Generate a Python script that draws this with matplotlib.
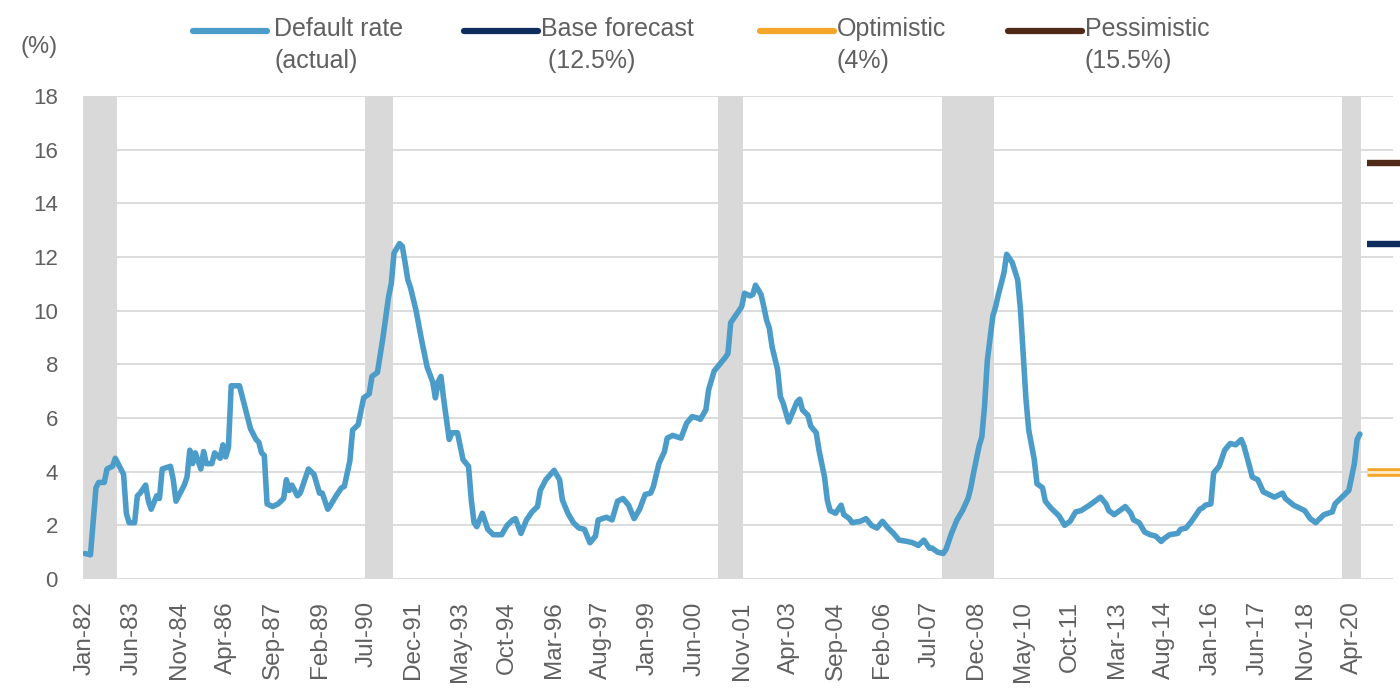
import matplotlib
matplotlib.use("Agg")
import matplotlib.pyplot as plt
from matplotlib.lines import Line2D

plt.rcParams['font.family'] = ['Liberation Sans', 'DejaVu Sans']

# default rate, months counted from Jan-82
months = [0, 2, 4, 5, 7, 8, 10, 11, 13, 14, 15, 16, 18, 19, 20, 22, 23, 24, 26, 27,
          28, 31, 32, 33, 34, 36, 37, 38, 39, 40, 42, 43, 44, 46, 47, 49, 50, 51, 52, 53,
          56, 58, 60, 62, 63, 64, 65, 66, 68, 70, 72, 73, 74, 75, 77, 78, 81, 83, 85, 86,
          88, 89, 91, 93, 94, 96, 97, 99, 101, 103, 104, 106, 108, 110, 111, 112, 114, 115, 116, 117,
          118, 120, 122, 124, 126, 127, 128, 129, 130, 132, 133, 135, 137, 139, 140, 141, 142, 144, 146, 148,
          151, 153, 155, 156, 158, 160, 162, 164, 165, 167, 170, 172, 173, 175, 177, 179, 181, 183, 185, 186,
          189, 191, 193, 195, 197, 199, 201, 203, 205, 206, 208, 210, 211, 213, 216, 218, 220, 222, 223, 225,
          226, 228, 230, 232, 233, 234, 236, 237, 238, 239, 241, 242, 243, 245, 246, 247, 248, 249, 251, 252,
          253, 255, 257, 258, 259, 260, 262, 263, 265, 266, 268, 269, 270, 272, 274, 275, 277, 278, 281, 283,
          285, 287, 289, 291, 293, 295, 298, 300, 302, 304, 306, 307, 309, 311, 312, 314, 316, 318, 320, 321,
          322, 324, 325, 326, 327, 329, 330, 331, 333, 334, 336, 338, 339, 340, 341, 342, 344, 345, 347, 348,
          350, 351, 353, 355, 357, 359, 361, 364, 366, 368, 370, 371, 373, 375, 377, 379, 380, 382, 384, 386,
          388, 390, 391, 393, 396, 397, 399, 401, 403, 404, 405, 406, 408, 409, 411, 413, 415, 417, 419, 420,
          422, 423, 425, 427, 429, 431, 434, 435, 438, 440, 442, 444, 446, 448, 449, 452, 453, 455, 457, 458,
          460, 461, 462]
default_rate = [0.95, 0.9, 3.4, 3.6, 3.6, 4.1, 4.2, 4.5, 4.1, 3.9, 2.45, 2.1, 2.1, 3.1, 3.2, 3.5, 2.9, 2.6, 3.1, 3.0,
                4.1, 4.2, 3.7, 2.9, 3.1, 3.5, 3.8, 4.8, 4.3, 4.7, 4.1, 4.75, 4.3, 4.3, 4.7, 4.5, 5.0, 4.55, 4.9, 7.2,
                7.2, 6.4, 5.6, 5.2, 5.1, 4.7, 4.6, 2.8, 2.7, 2.8, 3.0, 3.7, 3.3, 3.5, 3.1, 3.2, 4.1, 3.9, 3.2, 3.2,
                2.6, 2.75, 3.1, 3.4, 3.45, 4.4, 5.55, 5.75, 6.75, 6.9, 7.55, 7.7, 9.0, 10.5, 11.0, 12.15, 12.5, 12.4, 11.8, 11.15,
                10.85, 10.0, 8.9, 7.9, 7.35, 6.75, 7.35, 7.55, 6.7, 5.2, 5.45, 5.45, 4.45, 4.2, 2.95, 2.1, 1.95, 2.45, 1.85, 1.65,
                1.65, 2.0, 2.2, 2.25, 1.7, 2.2, 2.5, 2.7, 3.3, 3.7, 4.05, 3.7, 2.95, 2.45, 2.1, 1.9, 1.85, 1.35, 1.6, 2.2,
                2.3, 2.2, 2.9, 3.0, 2.75, 2.25, 2.6, 3.15, 3.2, 3.45, 4.3, 4.75, 5.25, 5.35, 5.25, 5.8, 6.05, 6.0, 5.95, 6.3,
                7.05, 7.75, 8.0, 8.25, 8.4, 9.55, 9.85, 10.0, 10.15, 10.65, 10.55, 10.6, 10.95, 10.6, 10.15, 9.65, 9.35, 8.65, 7.8, 6.8,
                6.55, 5.85, 6.35, 6.6, 6.7, 6.3, 6.1, 5.7, 5.45, 4.8, 3.8, 2.95, 2.55, 2.45, 2.75, 2.4, 2.25, 2.1, 2.15, 2.25,
                2.0, 1.9, 2.15, 1.9, 1.7, 1.45, 1.4, 1.35, 1.25, 1.45, 1.15, 1.15, 1.0, 0.95, 1.1, 1.7, 2.2, 2.55, 3.0, 3.4,
                3.95, 4.95, 5.3, 6.45, 8.15, 9.8, 10.15, 10.6, 11.4, 12.1, 11.8, 11.15, 10.05, 8.4, 6.7, 5.55, 4.45, 3.55, 3.4, 2.9,
                2.65, 2.55, 2.35, 2.0, 2.15, 2.5, 2.55, 2.75, 2.9, 3.05, 2.8, 2.55, 2.4, 2.55, 2.7, 2.45, 2.2, 2.1, 1.75, 1.65,
                1.6, 1.4, 1.5, 1.65, 1.7, 1.85, 1.9, 2.15, 2.45, 2.6, 2.65, 2.75, 2.8, 3.95, 4.2, 4.8, 5.05, 5.0, 5.2, 4.95,
                4.2, 3.8, 3.7, 3.25, 3.15, 3.05, 3.2, 3.0, 2.75, 2.65, 2.55, 2.25, 2.1, 2.3, 2.4, 2.5, 2.8, 3.0, 3.2, 3.3,
                4.3, 5.2, 5.4]
assert len(months) == len(default_rate)

# recessions (first and last month)
recession_start = [-6, 102, 230, 311, 456]
recession_end = [11, 111, 238, 329, 462]

# scenario forecasts (%)
scenario_names = ['Base forecast', 'Optimistic', 'Pessimistic']
scenario_values = [12.5, 4.0, 15.5]

tick_labels = ['Jan-82', 'Jun-83', 'Nov-84', 'Apr-86', 'Sep-87', 'Feb-89', 'Jul-90',
               'Dec-91', 'May-93', 'Oct-94', 'Mar-96', 'Aug-97', 'Jan-99', 'Jun-00',
               'Nov-01', 'Apr-03', 'Sep-04', 'Feb-06', 'Jul-07', 'Dec-08', 'May-10',
               'Oct-11', 'Mar-13', 'Aug-14', 'Jan-16', 'Jun-17', 'Nov-18', 'Apr-20']
tick_step = 17

c_actual = '#4b9cc8'
c_base = '#0e2c5c'
c_opt = '#f4a62a'
c_pess = '#502a19'
c_text = '#606060'
c_grid = '#d9d9d9'

W, H = 1400, 690
fig = plt.figure(figsize=(W / 100, H / 100), dpi=100)
ax = fig.add_axes([83 / W, 1 - 579 / H, 1310 / W, 483 / H])

for s, e in zip(recession_start, recession_end):
    ax.axvspan(s - 0.5, e + 0.5, ymin=0, ymax=1, color='#d9d9d9', lw=0, zorder=1)

ax.plot(months, default_rate, color=c_actual, lw=4.0, solid_joinstyle='round',
        solid_capstyle='round', zorder=3)

# forecast markers to the right of the series
fx = [464.5, 481]
ax.plot(fx, [scenario_values[2]] * 2, color=c_pess, lw=4.6, clip_on=False, zorder=3,
        solid_capstyle='butt')
ax.plot(fx, [scenario_values[0]] * 2, color=c_base, lw=4.6, clip_on=False, zorder=3,
        solid_capstyle='butt')
ax.plot(fx, [scenario_values[1]] * 2, color=c_opt, lw=6.2, clip_on=False, zorder=3,
        solid_capstyle='butt')
ax.plot(fx, [scenario_values[1]] * 2, color='#fdeccb', lw=2.0, clip_on=False, zorder=4,
        solid_capstyle='butt')

ax.set_xlim(-0.7, 474)
ax.set_ylim(0, 18)
ax.set_yticks(range(0, 19, 2))
ax.set_xticks(range(0, tick_step * len(tick_labels), tick_step))
ax.set_xticklabels(tick_labels, rotation=90, ha='center', va='top')
ax.grid(axis='y', color=c_grid, lw=1.3)
ax.set_axisbelow(True)
for sp in ax.spines.values():
    sp.set_visible(False)
ax.tick_params(axis='y', length=0, pad=18, labelsize=16, labelcolor=c_text)
ax.tick_params(axis='x', length=0, pad=16, labelsize=17.5, labelcolor=c_text)

fig.text(20 / W, 1 - 47 / H, '(%)', fontsize=17, color=c_text, va='center')

# legend drawn by hand: handle level with the first text line
legend_items = [
    ('Default rate', '(actual)', c_actual, 193, 274),
    (scenario_names[0], ' (12.5%)', c_base, 464, 541),
    (scenario_names[1], '(4%)', c_opt, 760, 837),
    (scenario_names[2], '(15.5%)', c_pess, 1008, 1085),
]
for line1, line2, col, hx, tx in legend_items:
    fig.add_artist(Line2D([hx / W, (hx + 74) / W], [1 - 31 / H] * 2,
                          transform=fig.transFigure, color=col, lw=4.5,
                          solid_capstyle='round'))
    fig.text(tx / W, 1 - 29 / H, line1, fontsize=18, color=c_text, va='center')
    fig.text(tx / W, 1 - 61 / H, line2, fontsize=18, color=c_text, va='center')

fig.savefig('out.png', dpi=100, facecolor='white')
